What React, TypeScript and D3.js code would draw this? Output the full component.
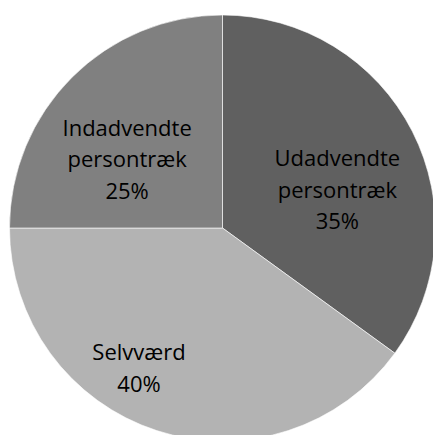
import React from "react";
import * as d3 from "d3";

const categories = ["Udadvendte persontræk", "Selvværd", "Indadvendte persontræk"];
const labelLines = [
  ["Udadvendte", "persontræk"],
  ["Selvværd"],
  ["Indadvendte", "persontræk"],
];
const values = [35, 40, 25];
const colors = ["#606060", "#b3b3b3", "#808080"];

const W = 433;
const H = 435;
const cx = 222.5;
const cy = 228;
const R = 213;
// label layout nudges (px) relative to arc centroid (to middle baseline)
const nudges: [number, number][] = [
  [1, 28],
  [-44, 26.5],
  [-5, 29.4],
];

export default function App() {
  const pie = d3.pie<number>().sort(null).value((d) => d)(values);
  const arc = d3.arc<d3.PieArcDatum<number>>().innerRadius(0).outerRadius(R);
  const labelArc = d3
    .arc<d3.PieArcDatum<number>>()
    .innerRadius(R * 0.6)
    .outerRadius(R * 0.6);
  const total = d3.sum(values);
  const lineH = 31.5;
  return (
    <svg
      width={W}
      height={H}
      style={{ position: "absolute", left: 0, top: 0, background: "#fff" }}
    >
      <g transform={`translate(${cx},${cy})`}>
        {pie.map((p, i) => (
          <path key={i} d={arc(p) || ""} fill={colors[i]} stroke="#ffffff" strokeWidth={0.6} />
        ))}
        {pie.map((p, i) => {
          const [x, y] = labelArc.centroid(p);
          const lines = [...labelLines[i], `${Math.round((values[i] / total) * 100)}%`];
          const lx = x + nudges[i][0];
          const ly = y + nudges[i][1] - ((lines.length - 1) * lineH) / 2;
          return (
            <text
              key={"t" + i}
              x={lx}
              y={ly}
              textAnchor="middle"
              fontFamily="Open Sans"
              fontSize={22}
              fill="#000"
            >
              {lines.map((l, j) => (
                <tspan key={j} x={lx} y={ly + j * lineH}>
                  {l}
                </tspan>
              ))}
            </text>
          );
        })}
      </g>
    </svg>
  );
}
